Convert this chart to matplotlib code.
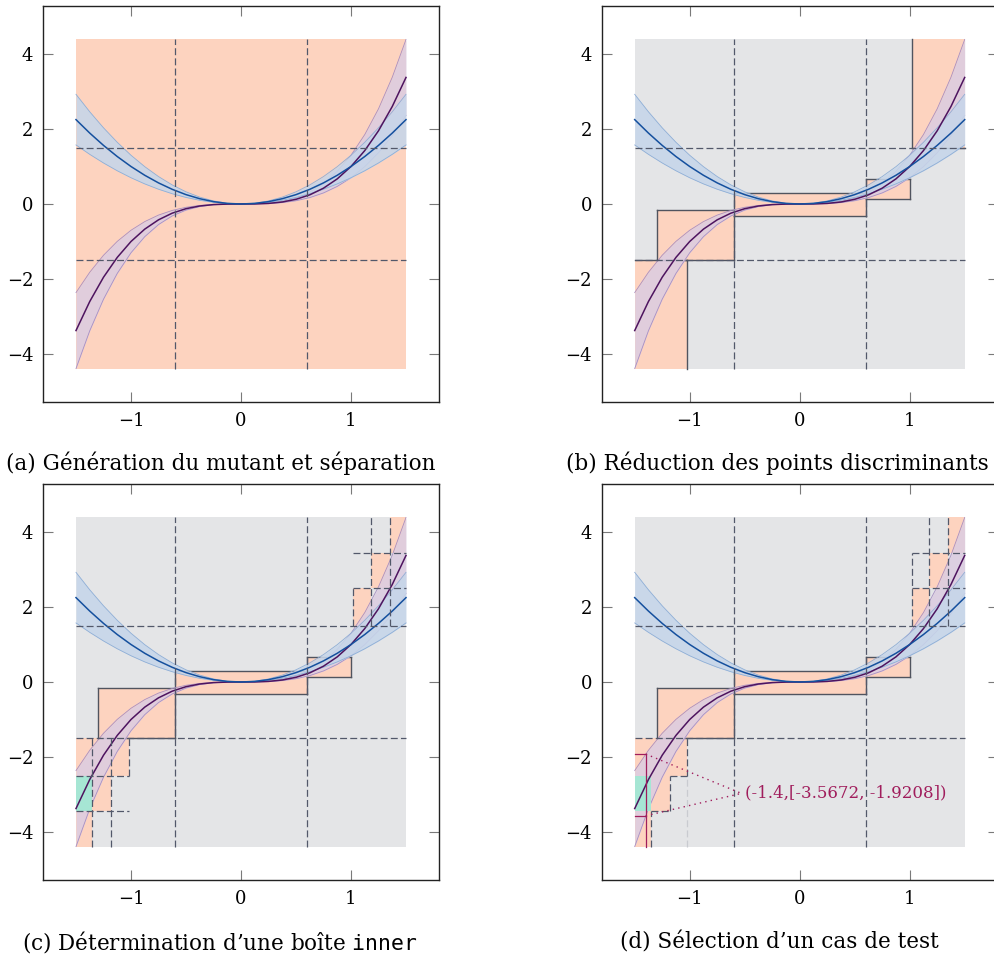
import matplotlib.pyplot as plt

plt.rcParams['font.family'] = ['DejaVu Serif']
plt.rcParams['mathtext.fontset'] = 'dejavuserif'
plt.rcParams['lines.scale_dashes'] = False

# input domain (x) and output range (y) covered by the boxes
dom_x = [-1.5, 1.5]
dom_y = [-4.4, 4.4]

xs = [-1.5, -1.375, -1.25, -1.125, -1.0, -0.875, -0.75, -0.625, -0.5,
      -0.375, -0.25, -0.125, 0.0, 0.125, 0.25, 0.375, 0.5, 0.625, 0.75,
      0.875, 1.0, 1.125, 1.25, 1.375, 1.5]
f_vals = [2.25, 1.891, 1.563, 1.266, 1.0, 0.766, 0.563, 0.391, 0.25,
          0.141, 0.063, 0.016, 0.0, 0.016, 0.063, 0.141, 0.25, 0.391, 0.563,
          0.766, 1.0, 1.266, 1.563, 1.891, 2.25]
g_vals = [-3.375, -2.600, -1.953, -1.424, -1.0, -0.670, -0.422, -0.244, -0.125,
          -0.053, -0.016, -0.002, 0.0, 0.002, 0.016, 0.053, 0.125, 0.244, 0.422,
          0.670, 1.0, 1.424, 1.953, 2.600, 3.375]
tol = [0.7, 1.3]   # relative tolerance band of each curve

# first split of the domain
split_x = [-0.6, 0.6]
split_y = [-1.5, 1.5]

# discriminating boxes (x0, x1, y0, y1)
boxes_b = [(-1.5, -1.02, -4.4, -1.5), (-1.3, -0.6, -1.5, -0.15),
           (-0.6, 0.6, -0.31, 0.29), (0.6, 1.0, 0.125, 0.68),
           (1.02, 1.5, 1.5, 4.4)]
boxes_kept = boxes_b[1:4]
sub_boxes = [(-1.5, -1.02, -2.5, -1.5), (-1.35, -1.18, -3.45, -2.5),
             (-1.5, -1.35, -4.4, -3.45), (1.02, 1.18, 1.5, 2.5),
             (1.18, 1.35, 2.5, 3.45), (1.35, 1.5, 3.45, 4.4)]
inner_box = (-1.5, -1.35, -3.45, -2.5)

# second split, as dashed segments (x0, y0, x1, y1)
cuts_c = [(-1.35, -4.4, -1.35, -1.5), (-1.18, -4.4, -1.18, -1.5),
          (-1.5, -2.5, -1.02, -2.5), (-1.5, -3.45, -1.02, -3.45),
          (-1.02, -2.5, -1.02, -1.5),
          (1.18, 1.5, 1.18, 4.4), (1.35, 1.5, 1.35, 4.4),
          (1.02, 2.5, 1.5, 2.5), (1.02, 3.45, 1.5, 3.45),
          (1.02, 1.5, 1.02, 2.5)]
cuts_d = [(-1.02, -2.5, -1.02, -1.5), (-1.18, -2.5, -1.02, -2.5),
          (-1.18, -3.45, -1.18, -2.5), (-1.35, -3.45, -1.18, -3.45),
          (-1.35, -4.4, -1.35, -3.45),
          (1.02, 1.5, 1.02, 3.45), (1.18, 1.5, 1.18, 4.4), (1.35, 1.5, 1.35, 4.4),
          (1.02, 2.5, 1.5, 2.5), (1.02, 3.45, 1.5, 3.45)]
faint_cuts_d = [(-1.02, -4.4, -1.02, -2.5)]

# selected test case
test_x = -1.4
test_y = [-3.5672, -1.9208]
test_label = '(-1.4,[-3.5672, -1.9208])'
label_at = (-0.5, -2.97)

captions = ['(a) Génération du mutant et séparation',
            '(b) Réduction des points discriminants',
            '(c) Détermination d\u2019une boîte $\\mathtt{inner}$',
            '(d) Sélection d\u2019un cas de test']

salmon = '#fdd3bf'
grey_bg = '#e4e5e7'
green = '#a6e6d4'
dash_col = '#52586a'
box_col = '#50545f'
magenta = '#a01d5c'


def fill_box(ax, b, color, z=1):
    ax.fill_between([b[0], b[1]], b[2], b[3], color=color, lw=0, zorder=z)


def outline_box(ax, b):
    # skip the sides lying on the domain border
    x0, x1, y0, y1 = b
    sides = [(x0, y0, x0, y1), (x1, y0, x1, y1), (x0, y0, x1, y0), (x0, y1, x1, y1)]
    for sx0, sy0, sx1, sy1 in sides:
        if sx0 == sx1 and sx0 in dom_x:
            continue
        if sy0 == sy1 and sy0 in dom_y:
            continue
        ax.plot([sx0, sx1], [sy0, sy1], color=box_col, lw=1.0, zorder=2)


def dashed(ax, segs, color=dash_col, z=5):
    for x0, y0, x1, y1 in segs:
        ax.plot([x0, x1], [y0, y1], color=color, lw=0.9, dashes=(5, 2.3), zorder=z)


def curve(ax, vals, line, fill, edge):
    lo = [v * tol[0] for v in vals]
    hi = [v * tol[1] for v in vals]
    ax.fill_between(xs, lo, hi, color=fill, alpha=0.88, lw=0, zorder=3)
    ax.plot(xs, lo, color=edge, lw=0.6, zorder=3)
    ax.plot(xs, hi, color=edge, lw=0.6, zorder=3)
    ax.plot(xs, vals, color=line, lw=1.1, zorder=4)


def panel(ax, stage):
    wx = dom_x[1] - dom_x[0]
    wy = dom_y[1] - dom_y[0]
    ax.set_xlim(dom_x[0] - 0.1 * wx, dom_x[1] + 0.1 * wx)
    ax.set_ylim(dom_y[0] - 0.1 * wy, dom_y[1] + 0.1 * wy)

    fill_box(ax, (dom_x[0], dom_x[1], dom_y[0], dom_y[1]),
             salmon if stage == 'a' else grey_bg, z=0)
    if stage == 'b':
        for b in boxes_b:
            fill_box(ax, b, salmon)
            outline_box(ax, b)
    elif stage in 'cd':
        for b in boxes_kept:
            fill_box(ax, b, salmon)
            outline_box(ax, b)
        for b in sub_boxes:
            fill_box(ax, b, salmon)
        # inner box sits above the tolerance bands
        fill_box(ax, inner_box, green, z=3.5)

    curve(ax, g_vals, '#4e145f', '#dccde1', '#a88fc2')
    curve(ax, f_vals, '#15509e', '#c6d6ea', '#8eaed6')

    segs = [(v, dom_y[0], v, dom_y[1]) for v in split_x]
    segs += [(dom_x[0], v, dom_x[1], v) for v in split_y]
    dashed(ax, segs)
    if stage == 'c':
        dashed(ax, cuts_c)
    if stage == 'd':
        dashed(ax, cuts_d)
        dashed(ax, faint_cuts_d, color='#c9cbd0', z=1.5)
        # test case: x value and its output interval
        ax.plot([test_x, test_x], [dom_y[0], test_y[1]], color=magenta, lw=0.9, zorder=6)
        for v in test_y:
            ax.plot([dom_x[0], test_x], [v, v], color=magenta, lw=0.9, zorder=6)
            ax.plot([test_x, label_at[0] - 0.03], [v, label_at[1]], color=magenta,
                    lw=1.0, ls=(0, (1, 3)), zorder=6)
        ax.text(label_at[0], label_at[1], test_label, color=magenta, fontsize=12,
                ha='left', va='center', zorder=7)

    ax.set_xticks([-1, 0, 1])
    ax.set_yticks([-4, -2, 0, 2, 4])
    ax.tick_params(direction='in', top=True, right=True, length=7.5, width=0.8,
                   color='#7a7a7a', pad=7, labelsize=13)
    for s in ax.spines.values():
        s.set_linewidth(1.0)
        s.set_color('#222222')


fig = plt.figure(figsize=(9.95, 9.57), dpi=100)
W, H = 995, 957
spots = [(43, 6), (601.7, 6), (43, 484), (601.7, 484)]
for i, stage in enumerate('abcd'):
    left, top = spots[i]
    ax = fig.add_axes([left / W, 1 - (top + 396) / H, 396 / W, 396 / H])
    panel(ax, stage)

cap_pos = [(221, 463), (777, 463), (220, 942), (779, 942)]
for (cx, cy), cap in zip(cap_pos, captions):
    fig.text(cx / W, 1 - cy / H, cap, ha='center', va='center', fontsize=15.5)

fig.savefig('out.png', dpi=100)
